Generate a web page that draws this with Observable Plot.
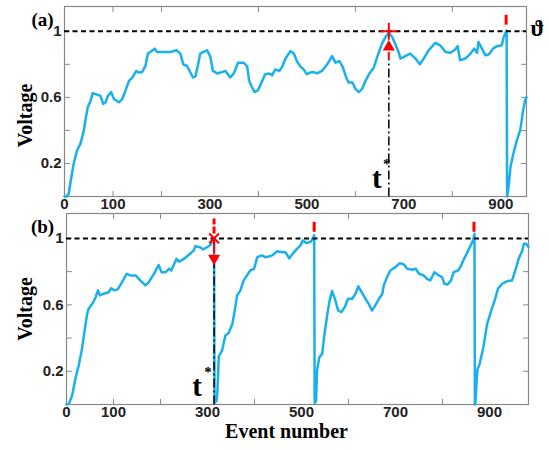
<!DOCTYPE html>
<html><head><meta charset="utf-8">
<script src="https://cdn.jsdelivr.net/npm/d3@7"></script>
<script src="https://cdn.jsdelivr.net/npm/@observablehq/plot@0.6"></script>
<style>
body{margin:0;background:#fff;}
#fig{position:relative;width:549px;height:450px;overflow:hidden;background:#fff;}
#fig svg{position:absolute;left:0;overflow:visible;}
</style></head><body><div id="fig"></div>
<script>
// ---------- data ----------
const eventsA = [0,5,9,12,19,26,33,40,43,48,54,58,64,74,80,85,89,96,102,112,119,126,133,140,148,153,160,167,172,177,186,191,205,219,231,239,245,253,258,265,270,275,280,287,294,301,306,315,322,332,342,349,358,370,377,381,387,392,399,408,414,423,428,435,443,449,456,466,473,480,487,493,500,507,514,521,531,542,552,559,567,574,581,586,594,600,607,614,621,629,638,645,655,662,669,676,682,689,693,703,713,724,733,741,751,765,775,786,796,806,811,816,827,836,845,851,854,861,868,875,884,892,902,906,911,912,913,916,920,926,933,940,946,950,953];
const voltA = [0,0,0.02,0.08,0.2,0.28,0.32,0.40,0.46,0.54,0.58,0.626,0.62,0.61,0.56,0.57,0.606,0.632,0.59,0.57,0.59,0.642,0.70,0.72,0.76,0.75,0.753,0.79,0.865,0.875,0.895,0.875,0.875,0.875,0.885,0.865,0.80,0.79,0.76,0.72,0.727,0.79,0.865,0.875,0.885,0.845,0.76,0.745,0.75,0.76,0.72,0.745,0.81,0.81,0.785,0.70,0.66,0.632,0.642,0.70,0.74,0.745,0.733,0.77,0.76,0.785,0.835,0.88,0.865,0.815,0.785,0.77,0.74,0.75,0.753,0.745,0.76,0.80,0.85,0.81,0.82,0.785,0.72,0.69,0.69,0.652,0.632,0.652,0.70,0.745,0.78,0.845,0.925,0.965,0.99,0.965,0.925,0.875,0.835,0.85,0.865,0.835,0.80,0.835,0.885,0.93,0.915,0.875,0.87,0.89,0.91,0.825,0.835,0.86,0.895,0.87,0.935,0.895,0.855,0.86,0.895,0.91,0.915,0.965,1.0,1.005,0.0,0.056,0.18,0.26,0.34,0.40,0.52,0.58,0.60];

const eventsB = [0,5,12,19,26,33,38,44,47,55,62,67,71,79,90,95,102,109,116,122,128,136,147,157,168,175,186,196,202,211,218,223,234,239,250,260,271,274,284,291,299,306,313,314,315,319,321,324,331,338,345,353,358,363,370,377,384,391,399,406,416,423,430,438,448,459,466,474,482,491,498,503,510,519,526,527,528,531,533,538,544,548,555,560,565,571,578,585,592,599,608,615,621,628,636,643,650,657,665,672,675,682,689,700,709,718,725,736,743,750,760,767,774,783,792,799,804,811,818,824,833,838,845,853,860,865,868,869,870,874,879,887,895,904,911,918,927,938,948,955,962,970,973,978,983];
const voltB = [0,0.004,0.054,0.155,0.235,0.335,0.435,0.546,0.576,0.606,0.646,0.687,0.657,0.667,0.676,0.70,0.687,0.693,0.727,0.757,0.787,0.777,0.777,0.747,0.717,0.737,0.787,0.84,0.797,0.797,0.817,0.807,0.877,0.86,0.877,0.90,0.928,0.953,0.947,0.934,0.947,0.96,0.998,1.0,0.01,0.02,0.07,0.29,0.325,0.415,0.43,0.486,0.566,0.657,0.687,0.747,0.777,0.807,0.817,0.887,0.898,0.887,0.891,0.898,0.923,0.917,0.917,0.88,0.91,0.938,0.958,0.988,0.972,0.978,1.01,1.02,0.01,0.02,0.205,0.285,0.305,0.405,0.546,0.627,0.683,0.637,0.566,0.556,0.586,0.637,0.637,0.667,0.711,0.677,0.637,0.606,0.566,0.596,0.637,0.667,0.717,0.767,0.807,0.827,0.851,0.843,0.817,0.811,0.817,0.787,0.777,0.757,0.747,0.797,0.777,0.767,0.727,0.723,0.747,0.797,0.807,0.827,0.871,0.917,0.958,0.988,1.028,0.0,0.01,0.205,0.245,0.345,0.486,0.566,0.627,0.697,0.727,0.743,0.747,0.807,0.877,0.928,0.968,0.968,0.948];

const threshold = 1;
const tStarA = 669;
const tStarB = 314;
const spikesA = [911];
const spikesB = [527, 867];
const xDomainA = [0, 953];
const xDomainB = [0, 983];
const yDomain = [0, 1.15];
const xTickLabels = [0,100,300,500,700,900];
const xTickMarks = [100,200,400,600,800];
const yTickValues = [0.2,0.4,0.6,0.8,1];
const yTickLabels = [0.2,0.6,1];
// annotation extents (voltage units)
const markerTopA = [1.04, 1.10];
const dashTopA = 0.83;
const arrowUpA = [0.83, 0.905];
const markerTopB = [1.04, 1.10];
const dashedRedB = [1.03, 1.12];
const arrowDownB = [0.99, 0.88];
const dashTopB = 0.86;

const blue = "#19b0ec";
const red = "#f00";
const serif = "'Liberation Serif','Times New Roman',serif";
const sans = "'Liberation Sans',Arial,sans-serif";
const tickShape = {draw(context, l) { context.moveTo(0, 0); context.lineTo(0, -l); }};
const bold = {fontWeight: "bold", fontFamily: serif, fill: "#000", textAnchor: "middle", lineAnchor: "middle"};

function axes() {
  const tk = {shape: tickShape, length: 5, anchor: "start", stroke: "#888", strokeWidth: 1};
  return [
    Plot.axisX(xTickLabels, {anchor: "bottom", label: null, tickSize: 0, tickPadding: 2, fontSize: 15, fontWeight: "bold", fill: "#222", fontFamily: sans, tickFormat: d => String(d)}),
    Plot.axisY(yTickLabels, {anchor: "left", label: null, tickSize: 0, tickPadding: 3, fontSize: 15, fontWeight: "bold", fill: "#222", fontFamily: sans, tickFormat: d => String(d)}),
    Plot.vector(xTickMarks, {x: d => d, frameAnchor: "bottom", rotate: 0, ...tk}),
    Plot.vector(xTickMarks, {x: d => d, frameAnchor: "top", rotate: 180, ...tk}),
    Plot.vector(yTickValues, {y: d => d, frameAnchor: "left", rotate: 90, ...tk}),
    Plot.vector(yTickValues, {y: d => d, frameAnchor: "right", rotate: -90, ...tk}),
    Plot.frame({stroke: "#888", strokeWidth: 1.2})
  ];
}

const dataA = eventsA.map((e, i) => ({event: e, volt: voltA[i]}));
const dataB = eventsB.map((e, i) => ({event: e, volt: voltB[i]}));

const plotA = Plot.plot({
  width: 549, height: 215,
  marginLeft: 64, marginRight: 23, marginTop: 6, marginBottom: 19,
  x: {domain: xDomainA},
  y: {domain: yDomain},
  style: {background: "transparent", overflow: "visible"},
  marks: [
    ...axes(),
    Plot.link([tStarA], {x1: d => d, x2: d => d, y1: 0, y2: dashTopA, stroke: "#000", strokeWidth: 1.5, strokeDasharray: "9,3,2,3"}),
    Plot.line(dataA, {x: "event", y: "volt", stroke: blue, strokeWidth: 2.5}),
    Plot.ruleY([threshold], {stroke: "#000", strokeWidth: 2, strokeDasharray: "5,3.5"}),
    Plot.link(spikesA, {x1: d => d, x2: d => d, y1: markerTopA[0], y2: markerTopA[1], stroke: red, strokeWidth: 3}),
    Plot.link([tStarA], {x1: d => d, x2: d => d, y1: arrowUpA[0], y2: arrowUpA[1] - 0.03, stroke: red, strokeWidth: 2}),
    Plot.dot([tStarA], {x: d => d, y: arrowUpA[1], symbol: "triangle", r: 4.5, fill: red, stroke: "none"}),
    Plot.dot([tStarA], {x: d => d, y: threshold, symbol: "plus", r: 5.5, stroke: red, strokeWidth: 2}),
    Plot.text(["ϑ"], {y: threshold, frameAnchor: "right", dx: 11, dy: -3, fontSize: 23, ...bold}),
    Plot.text(["t"], {x: tStarA, frameAnchor: "bottom", dx: -12, dy: -18, fontSize: 29, ...bold}),
    Plot.text(["*"], {x: tStarA, frameAnchor: "bottom", dx: -2, dy: -32, fontSize: 15, ...bold}),
    Plot.text(["(a)"], {frameAnchor: "top-left", dx: -22, dy: 13, fontSize: 19, ...bold}),
    Plot.text(["Voltage"], {frameAnchor: "left", rotate: -90, dx: -39, dy: 14, fontSize: 20, ...bold})
  ]
});

const plotB = Plot.plot({
  width: 549, height: 243,
  marginLeft: 66, marginRight: 21, marginTop: 6, marginBottom: 46,
  x: {domain: xDomainB},
  y: {domain: yDomain},
  style: {background: "transparent", overflow: "visible"},
  marks: [
    ...axes(),
    Plot.line(dataB, {x: "event", y: "volt", stroke: blue, strokeWidth: 2.5}),
    Plot.link([tStarB], {x1: d => d, x2: d => d, y1: 0, y2: dashTopB, stroke: "#000", strokeWidth: 1.5, strokeDasharray: "9,3,2,3"}),
    Plot.ruleY([threshold], {stroke: "#000", strokeWidth: 2, strokeDasharray: "5,3.5"}),
    Plot.link(spikesB, {x1: d => d, x2: d => d, y1: markerTopB[0], y2: markerTopB[1], stroke: red, strokeWidth: 3}),
    Plot.link([tStarB], {x1: d => d, x2: d => d, y1: dashedRedB[0], y2: dashedRedB[1], stroke: red, strokeWidth: 3, strokeDasharray: "7,2"}),
    Plot.link([tStarB], {x1: d => d, x2: d => d, y1: arrowDownB[0], y2: arrowDownB[1] + 0.03, stroke: red, strokeWidth: 2}),
    Plot.dot([tStarB], {x: d => d, y: arrowDownB[1], symbol: "triangle", rotate: 180, r: 4.5, fill: red, stroke: "none"}),
    Plot.dot([tStarB], {x: d => d, y: threshold, symbol: "times", r: 4.5, stroke: red, strokeWidth: 2}),
    Plot.text(["t"], {x: tStarB, frameAnchor: "bottom", dx: -17, dy: -18, fontSize: 29, ...bold}),
    Plot.text(["*"], {x: tStarB, frameAnchor: "bottom", dx: -6, dy: -32, fontSize: 15, ...bold}),
    Plot.text(["(b)"], {frameAnchor: "top-left", dx: -24, dy: 13, fontSize: 19, ...bold}),
    Plot.text(["Voltage"], {frameAnchor: "left", rotate: -90, dx: -41, dy: 0, fontSize: 20, ...bold}),
    Plot.text(["Event number"], {frameAnchor: "bottom", dx: -11, dy: 27, fontSize: 20, ...bold})
  ]
});

const fig = document.getElementById("fig");
plotA.style.top = "0px";
plotB.style.top = "207px";
fig.appendChild(plotA);
fig.appendChild(plotB);
</script>
</body></html>
